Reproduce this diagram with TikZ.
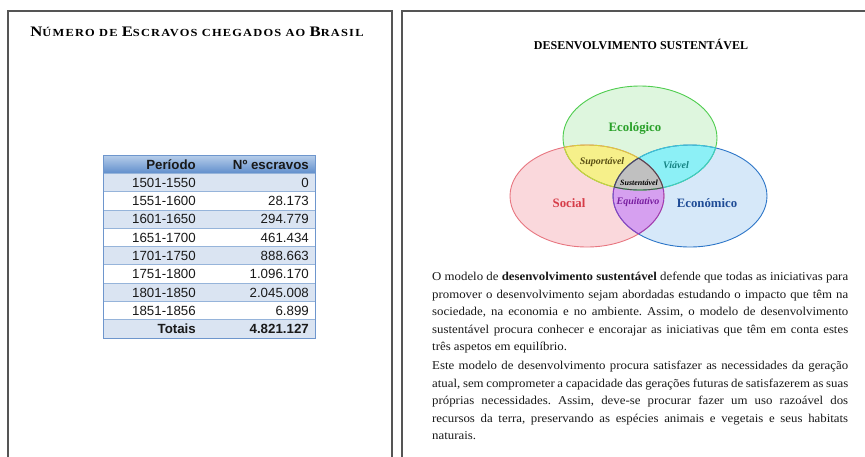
\documentclass[tikz,border=0pt]{standalone}
\usepackage{fontspec}
\setmainfont{Liberation Serif}
\newfontfamily\arialfont{Liberation Sans}
\newfontfamily\titlefont[LetterSpace=11,FakeStretch=1.15]{Liberation Serif}
\newfontfamily\parafont[FakeStretch=1.07]{Liberation Serif}
\newcommand{\bigc}[1]{{\fontsize{14.5}{16}\selectfont #1}}
\newcommand{\smc}[1]{{\fontsize{10.8}{12}\selectfont #1}}
\definecolor{frameclr}{RGB}{85,85,85}
\definecolor{txt}{RGB}{25,25,25}
\definecolor{hdrtop}{RGB}{184,206,234}
\definecolor{hdrbot}{RGB}{96,142,204}
\definecolor{rowlight}{RGB}{218,228,242}
\definecolor{rowline}{RGB}{150,180,218}
\definecolor{tabborder}{RGB}{110,150,205}
\definecolor{socfill}{RGB}{250,216,220}
\definecolor{socline}{RGB}{232,118,128}
\definecolor{ecofill}{RGB}{222,246,222}
\definecolor{ecoline}{RGB}{78,205,78}
\definecolor{ecnfill}{RGB}{214,232,249}
\definecolor{ecnline}{RGB}{45,118,200}
\definecolor{ylw}{RGB}{246,240,138}
\definecolor{ylwline}{RGB}{215,205,60}
\definecolor{cyn}{RGB}{140,240,246}
\definecolor{cynline}{RGB}{60,200,210}
\definecolor{prp}{RGB}{214,160,240}
\definecolor{prpline}{RGB}{150,60,190}
\definecolor{gry}{RGB}{192,192,192}
\definecolor{socword}{RGB}{214,60,72}
\definecolor{ecoword}{RGB}{40,160,40}
\definecolor{ecnword}{RGB}{30,75,150}
\definecolor{supword}{RGB}{90,80,20}
\definecolor{viaword}{RGB}{20,130,130}
\definecolor{equword}{RGB}{120,30,160}
\begin{document}
\begin{tikzpicture}[x=1pt,y=-1pt,
  frame/.style={draw=frameclr,line width=1.6pt},
  cellt/.style={font=\arialfont\fontsize{13.3}{15}\selectfont,text=txt,inner sep=0pt,anchor=base east},
  cellb/.style={cellt,font=\arialfont\bfseries\fontsize{13.3}{15}\selectfont},
  para/.style={text width=416pt,align=justify,inner sep=0pt,anchor=north west,text=txt,
    font=\parafont\frenchspacing\fontsize{12}{17.5}\selectfont},
  vword/.style={font=\bfseries\fontsize{12.8}{14}\selectfont,inner sep=0pt},
  lword/.style={font=\bfseries\itshape\fontsize{10}{12}\selectfont,inner sep=0pt}]
\useasboundingbox (0,0) rectangle (865,456);
\fill[white] (0,0) rectangle (865,456);
% frames
\draw[frame] (8,458) -- (8,11) -- (392,11) -- (392,458);
\draw[frame] (402,458) -- (402,11) -- (867,11);
% left title
\node[font=\titlefont\bfseries,text=black,inner sep=0pt] (lt) at (197,31.5)
  {\bigc{N}\smc{ÚMERO DE }\bigc{E}\smc{SCRAVOS CHEGADOS AO }\bigc{B}\smc{RASIL}};
% table
\def\rh{18.3}
\shade[top color=hdrtop,bottom color=hdrbot] (103,155) rectangle (315,173.3);
\foreach \i in {1,3,5,7,9}{
  \fill[rowlight] (103,{155+\rh*\i}) rectangle (315,{155+\rh*(\i+1)});
}
\foreach \i in {1,...,9}{
  \draw[rowline,line width=0.8pt] (103,{155+\rh*\i}) -- (315,{155+\rh*\i});
}
\draw[tabborder,line width=1pt] (103,155) rectangle (315,338);
\node[cellb] (h1) at (196,{155+14}) {Período};
\node[cellb] (h2) at (309,{155+14}) {Nº escravos};
\foreach \k/\a/\b in {1/1501-1550/0,2/1551-1600/28.173,3/1601-1650/294.779,
  4/1651-1700/461.434,5/1701-1750/888.663,6/1751-1800/1.096.170,
  7/1801-1850/2.045.008,8/1851-1856/6.899}{
  \node[cellt] (a\k) at (196,{155+\rh*\k+14}) {\a};
  \node[cellt] (b\k) at (309,{155+\rh*\k+14}) {\b};
}
\node[cellb] (t1) at (196,{155+\rh*9+14}) {Totais};
\node[cellb] (t2) at (309,{155+\rh*9+14}) {4.821.127};
% right title
\node[font=\bfseries\fontsize{12}{13}\selectfont,text=black,inner sep=0pt] (rt) at (641,44)
  {DESENVOLVIMENTO SUSTENTÁVEL};
% venn
\def\soc{(587,196) ellipse [x radius=77pt,y radius=51pt]}
\def\eco{(640,138) ellipse [x radius=77pt,y radius=52pt]}
\def\ecn{(690,196) ellipse [x radius=77pt,y radius=51pt]}
\fill[socfill] \soc;
\fill[ecnfill] \ecn;
\fill[ecofill] \eco;
\begin{scope}\clip \soc; \fill[prp] \ecn; \end{scope}
\begin{scope}\clip \soc; \fill[ylw] \eco; \end{scope}
\begin{scope}\clip \ecn; \fill[cyn] \eco; \end{scope}
\begin{scope}\clip \soc; \clip \ecn; \fill[gry] \eco; \end{scope}
\draw[socline,line width=0.9pt] \soc;
\draw[ecnline,line width=0.9pt] \ecn;
\draw[ecoline,line width=0.9pt] \eco;
\begin{scope}\clip \eco; \draw[ylwline,line width=0.9pt] \soc; \end{scope}
\begin{scope}\clip \soc; \draw[ylwline,line width=0.9pt] \eco; \end{scope}
\begin{scope}\clip \ecn; \draw[cynline,line width=0.9pt] \eco; \end{scope}
\begin{scope}\clip \eco; \draw[cynline,line width=0.9pt] \ecn; \end{scope}
\begin{scope}\clip \soc; \draw[prpline,line width=0.9pt] \ecn; \end{scope}
\begin{scope}\clip \ecn; \draw[prpline,line width=0.9pt] \soc; \end{scope}
\begin{scope}\clip \soc; \clip \ecn; \draw[black!70,line width=0.9pt] \eco; \end{scope}
\begin{scope}\clip \soc; \clip \eco; \draw[black!70,line width=0.9pt] \ecn; \end{scope}
\begin{scope}\clip \eco; \clip \ecn; \draw[black!70,line width=0.9pt] \soc; \end{scope}
\node[vword,text=ecoword] (weco) at (635,128) {Ecológico};
\node[vword,text=socword] (wsoc) at (569,203) {Social};
\node[vword,text=ecnword] (wecn) at (707,203) {Económico};
\node[lword,text=supword] (wsup) at (602,162) {Suportável};
\node[lword,text=viaword] (wvia) at (676,165) {Viável};
\node[lword,text=black,font=\bfseries\itshape\fontsize{8}{10}\selectfont] (wsus) at (639,183) {Sustentável};
\node[lword,text=equword] (wequ) at (638,202) {Equitativo};
% paragraphs
\node[para] (p1) at (432,272) {O modelo de \textbf{desenvolvimento sustentável} defende que todas as iniciativas para\linebreak
promover o desenvolvimento sejam abordadas estudando o impacto que têm na\linebreak
sociedade, na economia e no ambiente. Assim, o modelo de desenvolvimento\linebreak
sustentável procura conhecer e encorajar as iniciativas que têm em conta estes\linebreak
três aspetos em equilíbrio.};
\node[para] (p2) at (432,361) {Este modelo de desenvolvimento procura satisfazer as necessidades da geração\linebreak
atual, sem comprometer a capacidade das gerações futuras de satisfazerem as suas\linebreak
próprias necessidades. Assim, deve-se procurar fazer um uso razoável dos\linebreak
recursos da terra, preservando as espécies animais e vegetais e seus habitats\linebreak
naturais.};
\end{tikzpicture}
\end{document}
